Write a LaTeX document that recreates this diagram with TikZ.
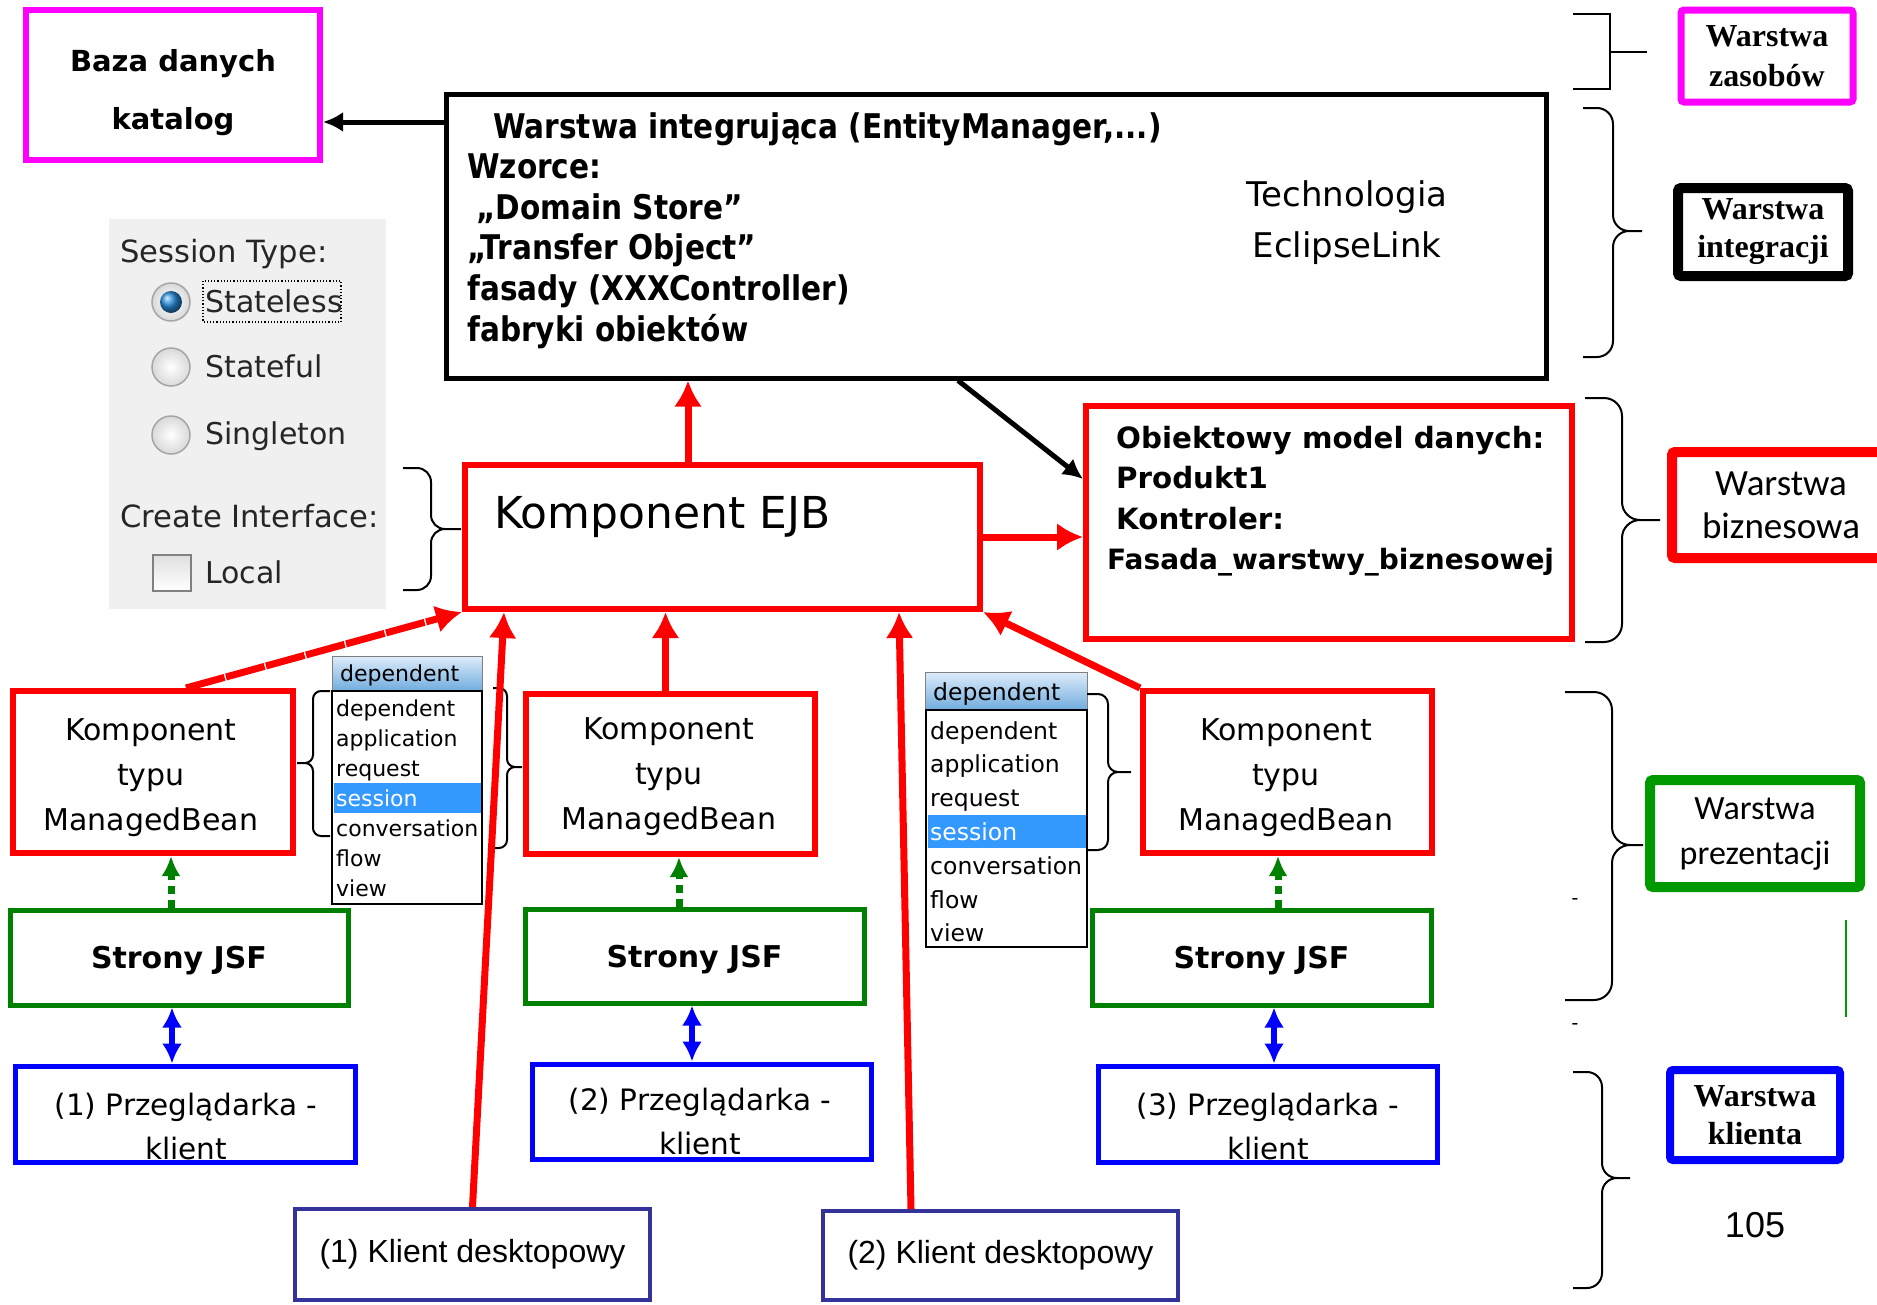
\documentclass[tikz,border=0pt]{standalone}
\usepackage{fontspec}
\setmainfont{DejaVu Sans}
\newfontfamily\narrowbold[FakeStretch=0.87]{DejaVu Sans Bold}
\newfontfamily\calfont{Carlito}
\newfontfamily\timesfont{Liberation Serif}
\newfontfamily\arialfont{Liberation Sans}
\usepackage{xcolor}
\usepackage{tikz}
\usetikzlibrary{arrows.meta}

\definecolor{navyb}{RGB}{51,51,153}
\definecolor{dkgreen}{RGB}{0,128,0}
\definecolor{brgreen}{RGB}{0,153,0}
\definecolor{pinkb}{RGB}{255,0,255}
\definecolor{panelgray}{RGB}{240,240,240}
\definecolor{selblue}{RGB}{51,153,255}
\definecolor{hdtop}{RGB}{222,236,250}
\definecolor{hdbot}{RGB}{112,172,222}
\definecolor{radioblue}{RGB}{40,140,220}

\begin{document}
\begin{tikzpicture}[x=1pt, y=-1pt,
        box/.style={draw, rectangle, inner sep=0pt},
        redbox/.style={box, draw=red, line width=6pt},
        greenbox/.style={box, draw=dkgreen, line width=5pt, text depth=0pt},
        bluebox/.style={box, draw=blue, line width=5pt},
        navybox/.style={box, draw=navyb, line width=4pt},
        layerbox/.style={box, rounded corners=3pt, align=center},
        boxtext/.style={align=center, inner sep=0pt, font=\fontsize{30}{45}\selectfont},
        redarrow/.style={->, >={Latex[length=26pt, width=28pt]}, draw=red, line width=7pt},
        blackarrow/.style={->, >={Latex[length=20pt, width=20pt]}, line width=5pt},
        greenarrow/.style={->, >={Latex[length=20pt, width=19pt]}, draw=dkgreen, line width=7pt, dash pattern=on 8pt off 6pt},
        bluearrow/.style={<->, >={Latex[length=20pt, width=20pt]}, draw=blue, line width=6pt},
        bracket/.style={line width=2pt, rounded corners=#1},
        paneltext/.style={inner sep=0pt, text=black!85, font=\fontsize{30}{34}\selectfont},
        ddtext/.style={inner sep=0pt, font=\fontsize{22}{26}\selectfont}]
        \useasboundingbox (0,0) rectangle (1877,1304);

        % Session panel
        \fill[panelgray] (109,219) rectangle (386,609);
        \node[paneltext, anchor=base west, font=\fontsize{30.6}{34}\selectfont] (sesstype) at (120,262) {Session Type:};
        \shadedraw[draw=gray!70, line width=1.5pt, inner color=white, outer color=gray!30] (171,302) circle (19pt);
        \shade[ball color=radioblue] (171,302) circle (11pt);
        \shadedraw[draw=gray!70, line width=1.5pt, inner color=white, outer color=gray!30] (171,367) circle (19pt);
        \shadedraw[draw=gray!70, line width=1.5pt, inner color=white, outer color=gray!30] (171,435) circle (19pt);
        \draw[dotted, line width=1.2pt] (203,281) rectangle (341,322);
        \node[paneltext, anchor=base west] (stateless) at (205,312) {Stateless};
        \node[paneltext, anchor=base west] (stateful) at (205,377) {Stateful};
        \node[paneltext, anchor=base west] (singleton) at (205,444) {Singleton};
        \node[paneltext, anchor=base west, font=\fontsize{30.6}{34}\selectfont] (createif) at (120,527) {Create Interface:};
        \shadedraw[draw=gray, line width=1.5pt, top color=gray!25, bottom color=white] (153,555) rectangle (191,591);
        \node[paneltext, anchor=base west] (local) at (205,583) {Local};

        % Dropdown lists
        \shadedraw[draw=gray, line width=1pt, top color=hdtop, bottom color=hdbot] (332,656) rectangle (482,691);
        \node[ddtext, anchor=base west] (dd1head) at (340,681) {dependent};
        \draw[fill=white, line width=2pt] (332,691) rectangle (482,904);
        \fill[selblue] (334,783) rectangle (481,813);
        \foreach \word/\col [count=\i from 0] in {dependent/black, application/black, request/black, session/white, conversation/black, flow/black, view/black}
            \node[ddtext, text=\col, anchor=base west] (dd1-\i) at (336,716+30*\i) {\word};

        \shadedraw[draw=gray, line width=1pt, top color=hdtop, bottom color=hdbot] (925,672) rectangle (1087,710);
        \node[ddtext, anchor=base west, font=\fontsize{23.5}{28}\selectfont] (dd2head) at (933,700) {dependent};
        \draw[fill=white, line width=2pt] (926,710) rectangle (1087,947);
        \fill[selblue] (928,815) rectangle (1086,848);
        \foreach \word/\col [count=\i from 0] in {dependent/black, application/black, request/black, session/white, conversation/black, flow/black, view/black}
            \node[ddtext, text=\col, anchor=base west, font=\fontsize{23.5}{28}\selectfont] (dd2-\i) at (930,739+33.8*\i) {\word};

        % Braces
        \draw[bracket=14pt] (403,468) -- (431,468) -- (431,529) -- (461,529) (461,529) -- (431,529) -- (431,590) -- (403,590);
        \draw[bracket=8pt] (330,691) -- (313,691) -- (313,763) -- (297,763) (297,763) -- (313,763) -- (313,836) -- (330,836);
        \draw[bracket=8pt] (493,688) -- (507,688) -- (507,767) -- (522,767) (522,767) -- (507,767) -- (507,848) -- (493,848);
        \draw[bracket=10pt] (1087,694) -- (1108,694) -- (1108,772) -- (1131,772) (1131,772) -- (1108,772) -- (1108,850) -- (1087,850);
        \draw[line width=2pt] (1573,14) -- (1610,14) -- (1610,89) -- (1573,89) (1610,52) -- (1647,52);
        \draw[bracket=16pt] (1583,108) -- (1613,108) -- (1613,231) -- (1642,231) (1642,231) -- (1613,231) -- (1613,357) -- (1583,357);
        \draw[bracket=18pt] (1585,398) -- (1622,398) -- (1622,520) -- (1660,520) (1660,520) -- (1622,520) -- (1622,642) -- (1585,642);
        \draw[bracket=18pt] (1565,692) -- (1612,692) -- (1612,845) -- (1643,845) (1643,845) -- (1612,845) -- (1612,1000) -- (1565,1000);
        \draw[bracket=15pt] (1573,1072) -- (1602,1072) -- (1602,1178) -- (1630,1178) (1630,1178) -- (1602,1178) -- (1602,1288) -- (1573,1288);

        % Components
        \node[box, draw=pinkb, line width=6pt, minimum width=294pt, minimum height=150pt] (baza) at (173,85) {};
        \node[align=center, inner sep=0pt, font=\bfseries\fontsize{29}{58}\selectfont] (bazatxt) at (173,93) {Baza danych\\katalog};
        \node[box, line width=5pt, minimum width=1100pt, minimum height=284pt] (integ) at (996,236) {};
        \node[anchor=north west, align=left, inner sep=0pt, font=\narrowbold\fontsize{34}{40.6}\selectfont] (integtxt) at (467,112) {\hspace*{26pt}Warstwa integrująca (EntityManager,...)\\Wzorce:\\\hspace*{9pt}„Domain Store”\\„Transfer Object”\\fasady (XXXController)\\fabryki obiektów};
        \node[align=center, inner sep=0pt, font=\fontsize{34}{51}\selectfont] (tech) at (1347,223) {Technologia\\EclipseLink};

        \node[redbox, minimum width=515pt, minimum height=144pt] (ejb) at (722.5,537) {};
        \node[anchor=west, inner sep=0pt, font=\fontsize{44}{50}\selectfont] (ejbtxt) at (494,517) {Komponent EJB};
        \node[redbox, minimum width=486pt, minimum height=233pt] (model) at (1329,522.5) {};
        \node[anchor=north west, align=left, inner sep=0pt, font=\bfseries\fontsize{29.3}{40.3}\selectfont] (modeltxt) at (1116,426) {Obiektowy model danych:\\Produkt1\\Kontroler:\\\hspace*{-9pt}{\fontsize{28}{40.3}\selectfont Fasada\_warstwy\_biznesowej}};

        \node[redbox, minimum width=280pt, minimum height=162pt] (mb1) at (153,772) {};
        \node[boxtext] (mb1txt) at (151,777.5) {Komponent\\typu\\ManagedBean};
        \node[redbox, minimum width=289pt, minimum height=160pt] (mb2) at (670.5,774) {};
        \node[boxtext] (mb2txt) at (669,777) {Komponent\\typu\\ManagedBean};
        \node[redbox, minimum width=289pt, minimum height=162pt] (mb3) at (1287.5,772) {};
        \node[boxtext] (mb3txt) at (1286,778) {Komponent\\typu\\ManagedBean};

        \node[greenbox, minimum width=338pt, minimum height=95pt, font=\bfseries\fontsize{30}{36}\selectfont] (s1) at (179,957.5) {Strony JSF};
        \node[greenbox, minimum width=339pt, minimum height=94pt, font=\bfseries\fontsize{30}{36}\selectfont] (s2) at (694.5,956) {Strony JSF};
        \node[greenbox, minimum width=339pt, minimum height=95pt, font=\bfseries\fontsize{30}{36}\selectfont] (s3) at (1261.5,957.5) {Strony JSF};

        \node[bluebox, minimum width=340pt, minimum height=96pt] (p1) at (185,1114) {};
        \node[boxtext, font=\fontsize{29.5}{44}\selectfont] (p1txt) at (186,1126) {(1) Przeglądarka -\\klient};
        \node[bluebox, minimum width=339pt, minimum height=95pt] (p2) at (701.5,1111.5) {};
        \node[boxtext, font=\fontsize{29.5}{44}\selectfont] (p2txt) at (700,1121) {(2) Przeglądarka -\\klient};
        \node[bluebox, minimum width=339pt, minimum height=96pt] (p3) at (1267.5,1114) {};
        \node[boxtext, font=\fontsize{29.5}{44}\selectfont] (p3txt) at (1268,1126) {(3) Przeglądarka -\\klient};

        \node[navybox, minimum width=355pt, minimum height=91pt, font=\arialfont\fontsize{32}{38}\selectfont] (k1) at (472.5,1254.5) {(1) Klient desktopowy};
        \node[navybox, minimum width=355pt, minimum height=89pt, font=\arialfont\fontsize{32}{38}\selectfont] (k2) at (1000.5,1255.5) {(2) Klient desktopowy};

        % Layers
        \node[layerbox, draw=pinkb, line width=7pt, minimum width=172pt, minimum height=92pt, font=\timesfont\bfseries\fontsize{32}{40}\selectfont] (zasoby) at (1767,56) {Warstwa\\zasobów};
        \node[layerbox, draw=black, line width=10pt, minimum width=170pt, minimum height=88pt, font=\timesfont\bfseries\fontsize{32}{38}\selectfont] (integracja) at (1763,232) {Warstwa\\integracji};
        \node[layerbox, draw=red, line width=10pt, minimum width=218pt, minimum height=106pt, font=\calfont\fontsize{37}{43}\selectfont] (biznes) at (1781,505) {Warstwa\\biznesowa};
        \node[layerbox, draw=brgreen, line width=10pt, minimum width=210pt, minimum height=107pt, font=\calfont\fontsize{34}{45}\selectfont] (prezentacja) at (1755,833.5) {Warstwa\\prezentacji};
        \node[layerbox, draw=blue, line width=8pt, minimum width=170pt, minimum height=90pt, font=\timesfont\bfseries\fontsize{32}{38}\selectfont] (klienci) at (1755,1115) {Warstwa\\klienta};
        \node[font=\arialfont\fontsize{36}{40}\selectfont] (pagenum) at (1755,1225) {105};
        \node[inner sep=0pt, font=\calfont\fontsize{22}{22}\selectfont] (dash1) at (1575,902) {-};
        \node[inner sep=0pt, font=\calfont\fontsize{22}{22}\selectfont] (dash2) at (1575,1027) {-};
        \draw[brgreen, line width=1.5pt] (1846,920) -- (1846,1017);

        % Arrows
        \coordinate (bazain) at ([yshift=-37pt]baza.east);
        \draw[blackarrow] (integ.west |- bazain) -- (bazain);
        \draw[blackarrow] ([xshift=-38pt]integ.south) -- ([yshift=43.5pt]model.west);
        \draw[redarrow] ([xshift=-34.5pt]ejb.north) -- ([xshift=-34.5pt]ejb.north |- integ.south);
        \draw[redarrow] (ejb.east) -- (ejb.east -| model.west);
        \draw[redarrow, dash pattern=on 40pt off 1.5pt] ([xshift=33pt]mb1.north) -- (ejb.south west);
        \draw[redarrow] (k1.north) -- ([xshift=-218.5pt]ejb.south);
        \draw[redarrow] ([xshift=-5pt]mb2.north) -- ([xshift=-5pt]mb2.north |- ejb.south);
        \draw[redarrow] ([xshift=-89.5pt]k2.north) -- ([xshift=176.5pt]ejb.south);
        \draw[redarrow] (mb3.north west) -- (ejb.south east);

        \draw[greenarrow] ([xshift=-8pt]s1.north) -- ([xshift=-8pt]s1.north |- mb1.south);
        \draw[greenarrow] ([xshift=-15.5pt]s2.north) -- ([xshift=-15.5pt]s2.north |- mb2.south);
        \draw[greenarrow] ([xshift=16.5pt]s3.north) -- ([xshift=16.5pt]s3.north |- mb3.south);

        \draw[bluearrow] ([xshift=-7pt]s1.south) -- ([xshift=-7pt]s1.south |- p1.north);
        \draw[bluearrow] ([xshift=-2.5pt]s2.south) -- ([xshift=-2.5pt]s2.south |- p2.north);
        \draw[bluearrow] ([xshift=12.5pt]s3.south) -- ([xshift=12.5pt]s3.south |- p3.north);
    \end{tikzpicture}
\end{document}
